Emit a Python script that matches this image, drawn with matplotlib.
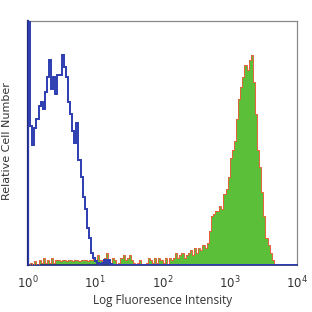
import numpy as np
import matplotlib
matplotlib.use("Agg")
import matplotlib.pyplot as plt

# Log-spaced channels: 32 per decade over 4 decades
decades = 4
bins_per_decade = 32

blue_counts = [150, 57, 49, 56, 60, 65, 67, 64, 71, 77,
               84, 72, 77, 70, 78, 78, 86, 81, 77, 67,
               62, 55, 50, 58, 43, 36, 28, 23, 15, 11,
               5, 3, 1.5, 1, 0.5, 1, 2, 1, 2, 0.5] + [0] * 88

green_counts = ([0, 1, 0, 1.5, 0, 2, 1, 3, 1, 2,
                 1, 3, 1, 2, 2, 1.5, 2, 2, 1.5, 2,
                 2, 1.5, 2, 2, 1.5, 2, 2, 2, 1.5, 2,
                 2, 3, 1.5, 4, 2, 1, 3, 5, 2, 1,
                 3, 2, 0.5, 1, 3, 4, 2, 3, 4, 2,
                 1, 0.5, 1, 2, 0.5, 0, 1, 3, 2, 1,
                 3, 1, 3, 2, 1, 3, 0.5, 3, 2, 3,
                 5, 3, 4, 5, 3, 4, 5, 6, 4, 7,
                 5, 7, 6, 8, 7, 9, 14, 20, 21, 22,
                 22, 24, 23, 29, 31, 36, 44, 47, 51, 60,
                 68, 73, 77, 82, 80, 84, 86, 75, 62, 47,
                 40, 30, 20, 11, 8, 5, 2, 0.5] + [0] * 10)

x_ticks = [1, 10, 100, 1000, 10000]
x_tick_labels = [r"$10^0$", r"$10^1$", r"$10^2$", r"$10^3$", r"$10^4$"]
x_label = "Log Fluoresence Intensity"
y_label = "Relative Cell Number"

edges = np.logspace(0, decades, decades * bins_per_decade + 1)

fig = plt.figure(figsize=(3.12, 3.12), dpi=100)
ax = fig.add_axes([28 / 312, 47 / 312, 269 / 312, 244 / 312])

ax.stairs(green_counts, edges, fill=True, color="#5cbf3a", zorder=2)
ax.stairs(green_counts, edges, color="#e8603a", lw=0.7, zorder=3)
ax.stairs(blue_counts, edges, color="#2e3db0", lw=1.4, zorder=4)

ax.set_xscale("log")
ax.set_xlim(1, 10000)
ax.set_ylim(0, 100)
ax.set_xticks(x_ticks)
ax.set_xticklabels(x_tick_labels, fontsize=8.5, color="#333333")
ax.minorticks_off()
ax.tick_params(axis="x", length=0, pad=7)
ax.set_yticks([])

for side in ["top", "right"]:
    ax.spines[side].set_color("#8a8a8a")
    ax.spines[side].set_linewidth(0.9)
ax.spines["bottom"].set_color("#1f2a7a")
ax.spines["bottom"].set_linewidth(1.2)
ax.spines["left"].set_color("#1f2a7a")
ax.spines["left"].set_linewidth(1.6)

ax.set_xlabel(x_label, fontsize=8.5, color="#333333", labelpad=2,
              family=["Open Sans", "DejaVu Sans"])
ax.set_ylabel(y_label, fontsize=8, color="#333333",
              family=["Liberation Sans Narrow", "DejaVu Sans"])
ax.yaxis.set_label_coords(-0.058, 0.508)

fig.savefig("out.png", dpi=100)
